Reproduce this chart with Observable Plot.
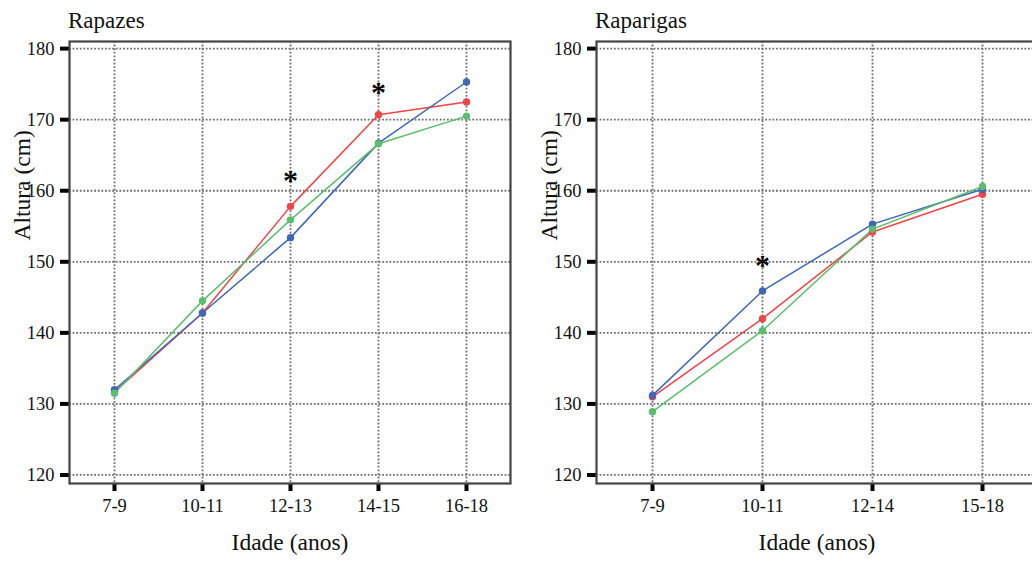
<!DOCTYPE html>
<html>
<head>
<meta charset="utf-8">
<script src="https://cdn.jsdelivr.net/npm/d3@7"></script>
<script src="https://cdn.jsdelivr.net/npm/@observablehq/plot@0.6"></script>
<style>
  html, body { margin: 0; padding: 0; background: #fff; overflow: hidden; }
  #wrap { position: relative; width: 1032px; height: 565px; overflow: hidden; font-family: "Liberation Serif", Tinos, "DejaVu Serif", serif; }
  .panel { position: absolute; top: 0; width: 527px; }
  .ttl { box-sizing: border-box; height: 34px; padding-top: 8px; padding-left: 68px; font-size: 23px; line-height: normal; color: #111; white-space: nowrap; }
  svg { display: block; }
</style>
</head>
<body>
<div id="wrap">
  <div class="panel" id="p1" style="left:0"><div class="ttl">Rapazes</div></div>
  <div class="panel" id="p2" style="left:527px"><div class="ttl">Raparigas</div></div>
</div>
<script>
// Rapazes
const boysAges = ["7-9", "10-11", "12-13", "14-15", "16-18"];
const boysRed   = [131.7, 142.8, 157.8, 170.7, 172.5];
const boysBlue  = [132.0, 142.8, 153.4, 166.7, 175.3];
const boysGreen = [131.5, 144.5, 155.9, 166.6, 170.5];
const boysStars = ["12-13", "14-15"];
const boysStarY = [161.4, 173.8];

// Raparigas
const girlsAges = ["7-9", "10-11", "12-14", "15-18"];
const girlsRed   = [131.0, 142.0, 154.2, 159.5];
const girlsBlue  = [131.2, 145.9, 155.3, 160.2];
const girlsGreen = [128.9, 140.3, 154.6, 160.6];
const girlsStars = ["10-11"];
const girlsStarY = [149.5];

const yTicks = [120, 130, 140, 150, 160, 170, 180];
const seriesNames = ["Vermelho", "Azul", "Verde"];
const seriesColors = ["#ef4448", "#3f67b5", "#5cbd6e"];

function buildRows(ages, red, blue, green) {
  const rows = [];
  [red, blue, green].forEach((vals, s) => {
    ages.forEach((a, i) => rows.push({age: a, value: vals[i], series: seriesNames[s]}));
  });
  return rows;
}

function panel(ages, red, blue, green, stars, starY) {
  const W = 527, H = 531, mt = 7, mb = 82, ml = 69, mr = 17;
  const fw = W - ml - mr, fh = H - mt - mb;
  const rows = buildRows(ages, red, blue, green);
  const starRows = stars.map((a, i) => ({age: a, value: starY[i]}));
  const font = '"Liberation Serif", Tinos, "DejaVu Serif", serif';
  const grid = {stroke: "#6e6e6e", strokeOpacity: 1, strokeWidth: 1.8, strokeDasharray: "1.8,1.8"};
  return Plot.plot({
    width: W,
    height: H,
    marginTop: mt,
    marginBottom: mb,
    marginLeft: ml,
    marginRight: mr,
    style: {fontFamily: font, color: "#111", background: "white"},
    x: {type: "point", domain: ages, padding: 0.5, label: null},
    y: {domain: [118.8, 181], label: null},
    color: {domain: seriesNames, range: seriesColors},
    marks: [
      Plot.gridY(yTicks, grid),
      Plot.gridX(ages, grid),
      Plot.axisY(yTicks, {anchor: "left", tickSize: 0, tickPadding: 15, fontSize: 18.5, label: null}),
      Plot.axisX(ages, {anchor: "bottom", tickSize: 0, tickPadding: 15, fontSize: 18.5, label: null}),
      Plot.tickY(yTicks, {y: d => d, insetLeft: -9, insetRight: fw, stroke: "black", strokeWidth: 4}),
      Plot.tickX(ages, {x: d => d, insetTop: fh, insetBottom: -8, stroke: "black", strokeWidth: 4}),
      Plot.frame({stroke: "#444", strokeWidth: 2.2}),
      Plot.line(rows, {x: "age", y: "value", z: "series", stroke: "series", strokeWidth: 1.5}),
      Plot.dot(rows, {x: "age", y: "value", fill: "series", r: 3.7}),
      Plot.text(starRows, {x: "age", y: "value", text: () => "*", fontSize: 30, fontWeight: "bold", fill: "black"}),
      Plot.text(["Altura (cm)"], {frameAnchor: "left", rotate: -90, dx: -47, dy: -22, fontSize: 23.5, fill: "#111"}),
      Plot.text(["Idade (anos)"], {frameAnchor: "bottom", dy: 66, fontSize: 23.5, fill: "#111"})
    ]
  });
}

document.getElementById("p1").appendChild(panel(boysAges, boysRed, boysBlue, boysGreen, boysStars, boysStarY));
document.getElementById("p2").appendChild(panel(girlsAges, girlsRed, girlsBlue, girlsGreen, girlsStars, girlsStarY));
</script>
</body>
</html>
